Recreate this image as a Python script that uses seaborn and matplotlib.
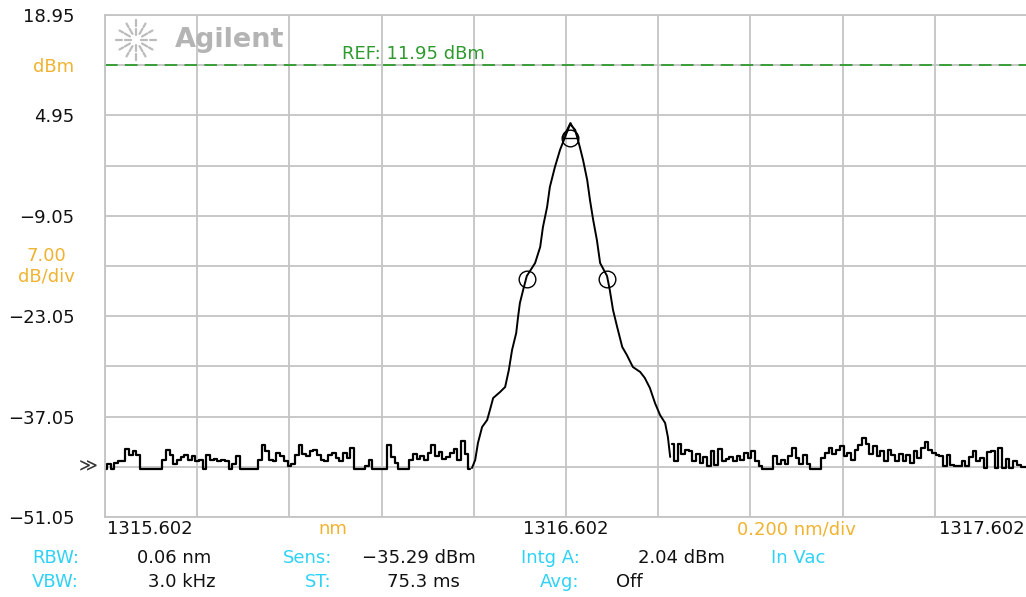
import numpy as np
import pandas as pd
import matplotlib.pyplot as plt
import seaborn as sns

# Sweep settings
start_nm = 1315.602
stop_nm = 1317.602
ref_dbm = 11.95
db_per_div = 7.0
step_nm = 0.008

# Noise floor left of the peak (dBm), one value per 0.008 nm from 1315.602
left_noise = [-44.3, -43.7, -44.3, -43.5, -43.2, -43.2, -41.6, -42.4, -41.8, -42.4,
              -44.3, -44.3, -44.3, -44.3, -44.3, -44.3, -43.1, -41.7, -42.4, -43.7,
              -43.1, -42.7, -42.4, -43.1, -42.6, -43.2, -43.1, -44.3, -42.4, -43.1,
              -42.9, -43.2, -43.1, -43.2, -44.3, -43.7, -42.6, -44.3, -44.3, -44.3,
              -44.3, -44.3, -43.1, -41.0, -41.8, -43.1, -43.2, -42.1, -42.6, -43.2,
              -44.0, -43.7, -42.4, -41.0, -42.2, -42.6, -41.8, -41.7, -42.4, -43.1,
              -43.2, -42.4, -42.1, -42.8, -43.2, -42.1, -42.8, -41.4, -44.3, -44.3,
              -44.3, -43.9, -43.1, -44.3, -44.3, -44.3, -44.3, -41.0, -42.7, -43.5,
              -44.3, -44.3, -44.3, -43.1, -42.3, -43.0, -42.6, -43.1, -42.1, -41.0,
              -42.5, -42.0, -42.9, -42.7, -42.1, -41.5, -43.1, -40.4, -42.2, -44.3]

# Signal peak
peak_nm = [1316.398, 1316.405, 1316.411, 1316.420, 1316.431, 1316.437, 1316.444,
           1316.459, 1316.470, 1316.478, 1316.485, 1316.494, 1316.498, 1316.502,
           1316.509, 1316.517, 1316.535, 1316.546, 1316.552, 1316.561, 1316.567,
           1316.578, 1316.589, 1316.600, 1316.611, 1316.622, 1316.632, 1316.639,
           1316.648, 1316.654, 1316.661, 1316.669, 1316.676, 1316.691, 1316.697,
           1316.704, 1316.713, 1316.724, 1316.734, 1316.747, 1316.763, 1316.773,
           1316.784, 1316.795, 1316.806, 1316.817, 1316.823, 1316.828]
peak_dbm = [-44.22, -43.10, -40.73, -38.50, -37.52, -36.13, -34.46,
            -33.62, -32.92, -30.55, -27.76, -25.39, -23.16, -21.21,
            -19.40, -17.44, -15.63, -13.40, -10.61, -7.82, -5.03,
            -2.24, 0.13, 1.94, 3.75, 2.91, 0.54, -1.27,
            -4.06, -6.85, -9.64, -12.42, -15.63, -17.44, -19.40,
            -22.18, -24.56, -27.34, -28.46, -30.13, -30.83, -31.67,
            -33.06, -35.15, -36.83, -37.94, -39.89, -42.68]

# Noise floor right of the peak (dBm), one value per 0.008 nm from 1316.832
right_noise = [-40.9, -43.2, -40.9, -42.2, -41.7, -41.8, -43.2, -42.2, -43.5, -42.7,
               -43.9, -41.8, -43.8, -41.5, -43.2, -42.9, -42.7, -43.2, -42.5, -43.1,
               -42.1, -42.8, -41.8, -43.3, -43.9, -44.3, -44.3, -44.3, -42.6, -43.6,
               -43.1, -43.6, -42.6, -41.4, -42.8, -43.6, -42.4, -43.6, -44.3, -44.3,
               -44.3, -42.8, -42.1, -41.4, -42.3, -41.7, -41.2, -42.6, -42.1, -43.1,
               -41.7, -41.0, -40.0, -40.9, -42.2, -41.1, -42.6, -41.9, -43.2, -41.7,
               -42.4, -43.3, -42.2, -43.2, -42.4, -43.5, -41.9, -42.8, -41.4, -40.6,
               -41.7, -42.1, -42.4, -42.6, -44.0, -42.4, -43.8, -44.0, -43.9, -43.2,
               -43.9, -42.7, -41.8, -43.3, -42.8, -44.2, -42.0, -41.8, -44.2, -41.4,
               -44.2, -43.0, -44.2, -43.3, -43.8, -44.1, -44.1]

# Markers (peak and side markers)
marker_nm = [1316.517, 1316.611, 1316.691]
marker_dbm = [-17.9, 1.8, -17.9]
peak_mark_nm = [1316.611]
peak_mark_dbm = [2.9]

grid_labels = ['18.95', 'dBm', '4.95', '', '\u22129.05', '7.00\ndB/div',
               '\u221223.05', '', '\u221237.05', '', '\u221251.05']

left_df = pd.DataFrame({'nm': start_nm + np.arange(len(left_noise)) * step_nm,
                        'dbm': left_noise})
right_df = pd.DataFrame({'nm': 1316.832 + np.arange(len(right_noise)) * step_nm,
                         'dbm': right_noise})
peak_df = pd.DataFrame({'nm': peak_nm, 'dbm': peak_dbm})

sns.set_theme(style="white")
plt.rcParams['font.family'] = ['DejaVu Sans']

W, H = 1026, 597
FS = 13
fig = plt.figure(figsize=(W / 100, H / 100), dpi=100)
ax = fig.add_axes([105 / W, (H - 517) / H, 922 / W, 502 / H])

grid_col = '#c4c4c4'
orange = '#f0b330'
cyan = '#2fd2f7'
green = '#2f9a2f'

top_db = ref_dbm + db_per_div
bot_db = ref_dbm - 9 * db_per_div
ax.set_xlim(start_nm, stop_nm)
ax.set_ylim(bot_db, top_db)
ax.set_xticks(np.linspace(start_nm, stop_nm, 11))
ax.set_yticks([top_db - i * db_per_div for i in range(11)])
ax.grid(True, color=grid_col, lw=1.3)
for s in ax.spines.values():
    s.set_color(grid_col)
    s.set_linewidth(1.3)
ax.tick_params(length=0)
ax.set_xticklabels([])
ax.set_yticklabels(grid_labels, fontsize=FS, linespacing=1.2)
ax.tick_params(axis='y', pad=22)
for i, lab in enumerate(ax.get_yticklabels()):
    lab.set_multialignment('center')
    if i in (1, 5):
        lab.set_color(orange)
    else:
        lab.set_color('#111111')
    if i == 5:
        lab.set_va('center')

# reference line
ax.axhline(ref_dbm, color=green, lw=1.3, ls=(0, (7, 4)))
ax.text(1315.602 + 237 / 461, ref_dbm + 1.6, 'REF: 11.95 dBm', color=green,
        fontsize=FS, va='center', ha='left')

# trace
sns.lineplot(data=left_df, x='nm', y='dbm', ax=ax, color='black', lw=1.6,
             drawstyle='steps-mid', estimator=None, sort=False)
sns.lineplot(data=right_df, x='nm', y='dbm', ax=ax, color='black', lw=1.6,
             drawstyle='steps-mid', estimator=None, sort=False)
sns.lineplot(data=peak_df, x='nm', y='dbm', ax=ax, color='black', lw=1.4,
             estimator=None, sort=False)
ax.plot(marker_nm, marker_dbm, 'o', ms=12, mfc='none', mec='black', mew=1.0)
ax.plot(peak_mark_nm, peak_mark_dbm, '^', ms=11, mfc='none', mec='black', mew=1.0)
ax.set_xlabel('')
ax.set_ylabel('')

# threshold marker
ax.annotate('\u226b', xy=(0, -44.05), xycoords=('axes fraction', 'data'),
            xytext=(-12, 0), textcoords='offset points', ha='center', va='center',
            fontsize=13, color='#333333')

# Agilent logo
cx, cy = 136, 40
for a in np.arange(0, 360, 30):
    r = np.deg2rad(a)
    for r0, r1 in [(5, 11), (14, 20)] if a % 90 == 0 else [(7, 13), (15, 19)]:
        xs = [(cx + r0 * np.cos(r)) / W, (cx + r1 * np.cos(r)) / W]
        ys = [1 - (cy + r0 * np.sin(r)) / H, 1 - (cy + r1 * np.sin(r)) / H]
        fig.add_artist(plt.Line2D(xs, ys, color='#bcbcbc', lw=1.6,
                                  transform=fig.transFigure))
fig.text(175 / W, 1 - 40 / H, 'Agilent', color='#b4b4b4', fontsize=19.5,
         fontweight='bold', va='center', ha='left')

# wavelength labels
def ftext(x, y, s, color='#111111', ha='left'):
    fig.text(x / W, 1 - y / H, s, color=color, fontsize=FS, ha=ha, va='center')

ftext(107, 529, '1315.602')
ftext(333, 529, 'nm', orange, 'center')
ftext(566, 529, '1316.602', ha='center')
ftext(796, 529, '0.200 nm/div', orange, 'center')
ftext(1025, 529, '1317.602', ha='right')

# settings rows
ftext(32, 558, 'RBW:', cyan)
ftext(137, 558, '0.06 nm')
ftext(283, 558, 'Sens:', cyan)
ftext(362, 558, '\u221235.29 dBm')
ftext(521, 558, 'Intg A:', cyan)
ftext(638, 558, '2.04 dBm')
ftext(771, 558, 'In Vac', cyan)
ftext(32, 582, 'VBW:', cyan)
ftext(148, 582, '3.0 kHz')
ftext(305, 582, 'ST:', cyan)
ftext(387, 582, '75.3 ms')
ftext(540, 582, 'Avg:', cyan)
ftext(616, 582, 'Off')

fig.savefig('out.png', dpi=100, facecolor='white')
